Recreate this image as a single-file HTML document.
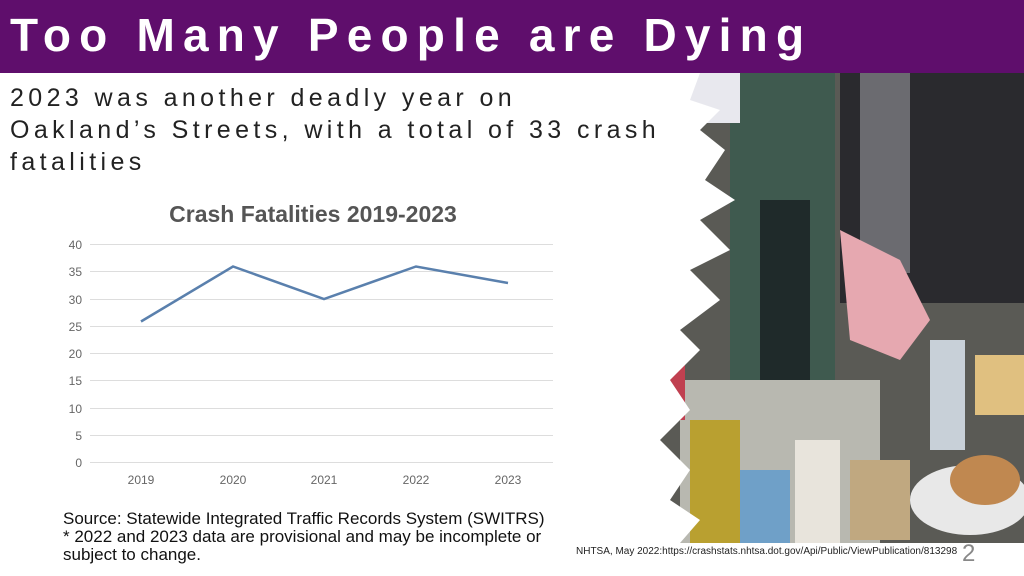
<!DOCTYPE html>
<html><head><style>
body{margin:0;width:1024px;height:576px;overflow:hidden;background:#fff;font-family:"Liberation Sans",sans-serif;position:relative}
.hdr{position:absolute;left:0;top:0;width:1024px;height:73px;background:#5f0e6c}
.t{position:absolute;left:10px;top:8px;color:#fff;font-weight:bold;font-size:46px;letter-spacing:8.2px;white-space:nowrap}
.sub{position:absolute;left:10px;top:82px;font-size:25px;letter-spacing:4.4px;line-height:32px;color:#222;white-space:nowrap}
.src{position:absolute;left:63px;top:510px;font-size:17px;line-height:18px;color:#111;white-space:nowrap}
.ref{position:absolute;left:576px;top:546px;font-size:10px;color:#222}
.pg{position:absolute;left:962px;top:540px;font-size:24px;color:#888}
</style></head><body>
<svg style="position:absolute;left:0;top:0" width="1024" height="576">
<g>
<rect x="640" y="73" width="384" height="470" fill="#5a5a55"/>
<rect x="840" y="73" width="184" height="230" fill="#2a2a2e"/>
<rect x="860" y="73" width="50" height="200" fill="#6b6b70"/>
<rect x="730" y="73" width="105" height="340" fill="#3f5a4f"/>
<rect x="760" y="200" width="50" height="200" fill="#1f2a2a"/>
<rect x="680" y="73" width="60" height="50" fill="#e8e8ee"/>
<polygon points="840,230 900,260 930,320 900,360 850,340" fill="#e6a8b0"/>
<rect x="680" y="380" width="200" height="163" fill="#b8b8b0"/>
<rect x="690" y="420" width="50" height="123" fill="#b9a030"/>
<rect x="740" y="470" width="50" height="73" fill="#6fa0c8"/>
<rect x="795" y="440" width="45" height="103" fill="#e8e4dc"/>
<rect x="850" y="460" width="60" height="80" fill="#c0a880"/>
<ellipse cx="970" cy="500" rx="60" ry="35" fill="#e8e8e8"/>
<ellipse cx="985" cy="480" rx="35" ry="25" fill="#c08850"/>
<rect x="975" y="355" width="49" height="60" fill="#e0c080"/>
<rect x="930" y="340" width="35" height="110" fill="#c8d0d8"/>
<rect x="655" y="360" width="30" height="60" fill="#c04050"/>
<path d="M640,73 L700,73 L690,100 L720,110 L700,130 L725,150 L705,180 L735,200 L700,220 L730,250 L690,270 L720,300 L680,330 L700,350 L670,380 L690,410 L660,440 L690,470 L670,500 L700,520 L680,543 L640,543 Z" fill="#fff"/>
</g>
<text x="313" y="222" text-anchor="middle" font-size="23" font-weight="bold" fill="#555">Crash Fatalities 2019-2023</text>
<g stroke="#ddd" stroke-width="1">
<line x1="90" x2="553" y1="244.5" y2="244.5"/><line x1="90" x2="553" y1="271.5" y2="271.5"/>
<line x1="90" x2="553" y1="299.5" y2="299.5"/><line x1="90" x2="553" y1="326.5" y2="326.5"/>
<line x1="90" x2="553" y1="353.5" y2="353.5"/><line x1="90" x2="553" y1="380.5" y2="380.5"/>
<line x1="90" x2="553" y1="408.5" y2="408.5"/><line x1="90" x2="553" y1="435.5" y2="435.5"/>
<line x1="90" x2="553" y1="462.5" y2="462.5"/></g>
<g font-size="12" fill="#666" text-anchor="end">
<text x="82" y="249">40</text><text x="82" y="276">35</text><text x="82" y="304">30</text>
<text x="82" y="331">25</text><text x="82" y="358">20</text><text x="82" y="385">15</text>
<text x="82" y="413">10</text><text x="82" y="440">5</text><text x="82" y="467">0</text></g>
<g font-size="12" fill="#666" text-anchor="middle">
<text x="141" y="484">2019</text><text x="233" y="484">2020</text><text x="324" y="484">2021</text>
<text x="416" y="484">2022</text><text x="508" y="484">2023</text></g>
<polyline points="141,321.5 233,266.5 324,299 416,266.5 508,283" fill="none" stroke="#5a80ad" stroke-width="2.5"/>
</svg>
<div class="hdr"><div class="t">Too Many People are Dying</div></div>
<div class="sub">2023 was another deadly year on<br>Oakland’s Streets, with a total of 33 crash<br>fatalities</div>
<div class="src">Source: Statewide Integrated Traffic Records System (SWITRS)<br>* 2022 and 2023 data are provisional and may be incomplete or<br>subject to change.</div>
<div class="ref">NHTSA, May 2022:https://crashstats.nhtsa.dot.gov/Api/Public/ViewPublication/813298</div>
<div class="pg">2</div>
</body></html>
